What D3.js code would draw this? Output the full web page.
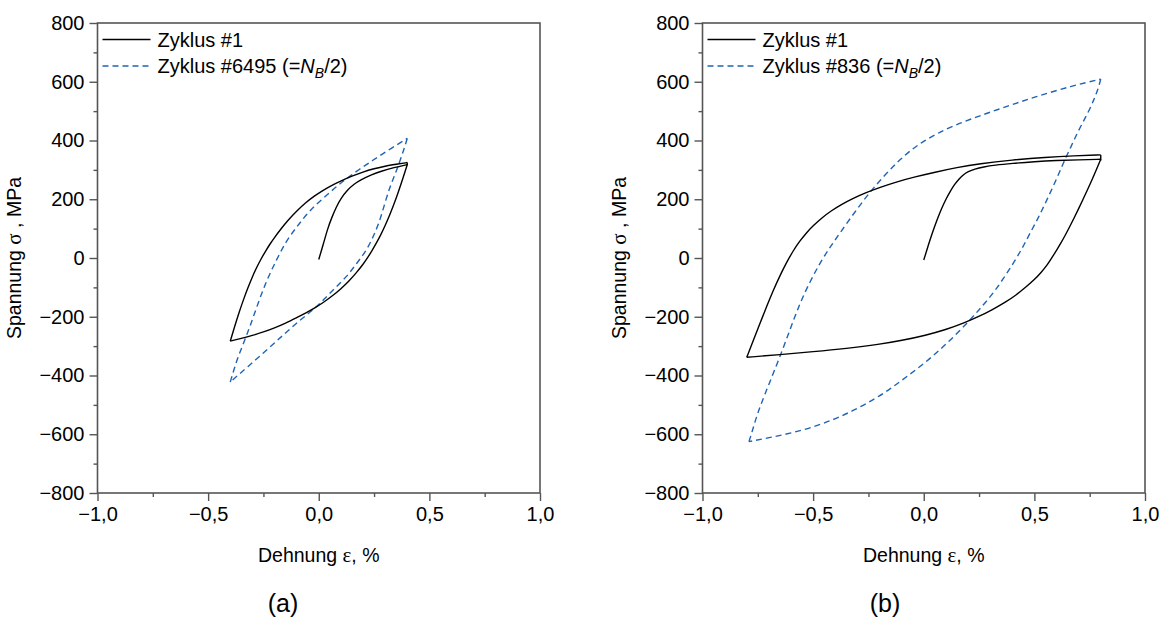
<!DOCTYPE html>
<html>
<head>
<meta charset="utf-8">
<script src="https://cdn.jsdelivr.net/npm/d3@7"></script>
<style>
  body { margin: 0; background: #fff; }
  svg { display: block; }
  text { font-family: "Liberation Sans", Arial, sans-serif; fill: #000; }
</style>
</head>
<body>
<div id="chart"></div>
<script>
// tick values
const xMajor = [-1, -0.5, 0, 0.5, 1];
const xMinor = [-0.75, -0.25, 0.25, 0.75];
const yMajor = [-800, -600, -400, -200, 0, 200, 400, 600, 800];
const yMinor = [-700, -500, -300, -100, 100, 300, 500, 700];

// panel (a): cycle 1, [strain %, stress MPa]
const a1Load = [[0,-5],[0.02,45],[0.04,100],[0.06,140],[0.08,175],[0.10,203],[0.13,232],[0.16,252],[0.19,266],[0.24,284],[0.28,295],[0.34,308],[0.40,318]];
const a1Unload = [[0.40,318],[0.38,270],[0.36,225],[0.34,183],[0.32,145],[0.30,110],[0.28,78],[0.26,50],[0.24,24],[0.22,0],[0.20,-22],[0.17,-50],[0.14,-76],[0.10,-105],[0.06,-130],[0.02,-152],[-0.02,-171],[-0.06,-188],[-0.10,-203],[-0.15,-222],[-0.20,-238],[-0.25,-252],[-0.30,-264],[-0.35,-274],[-0.40,-283]];
const a1Reload = [[-0.40,-283],[-0.38,-233],[-0.36,-185],[-0.34,-141],[-0.32,-101],[-0.30,-64],[-0.28,-31],[-0.26,-2],[-0.24,24],[-0.22,48],[-0.20,70],[-0.17,100],[-0.14,128],[-0.10,160],[-0.06,188],[-0.02,211],[0.02,231],[0.06,248],[0.10,262],[0.15,279],[0.20,293],[0.25,304],[0.30,313],[0.35,319],[0.40,325]];
const a1Close = [[0.40,325],[0.40,316]];
// panel (a): cycle 6495
const aNUnload = [[0.40,407],[0.385,370],[0.367,330],[0.345,285],[0.322,243],[0.30,190],[0.277,129],[0.25,78],[0.217,27],[0.17,-20],[0.126,-64],[0.07,-105],[0.021,-143],[-0.03,-180],[-0.085,-211],[-0.16,-262],[-0.235,-313],[-0.32,-370],[-0.40,-422]];
const aNReload = [[-0.40,-422],[-0.385,-385],[-0.37,-347],[-0.34,-290],[-0.311,-234],[-0.275,-155],[-0.235,-75],[-0.19,-5],[-0.145,61],[-0.09,115],[-0.04,163],[0.03,210],[0.096,254],[0.17,295],[0.247,334],[0.32,370],[0.40,407]];

// panel (b): cycle 1
const b1Load = [[0,-7],[0.02,42],[0.04,88],[0.06,130],[0.08,168],[0.10,200],[0.12,228],[0.14,251],[0.16,270],[0.18,284],[0.20,294],[0.23,303],[0.27,310],[0.32,316],[0.40,322],[0.50,328],[0.60,332],[0.70,334],[0.80,336]];
const b1Unload = [[0.80,336],[0.78,300],[0.76,265],[0.74,232],[0.72,200],[0.70,168],[0.68,137],[0.66,107],[0.64,78],[0.62,51],[0.60,26],[0.58,2],[0.56,-22],[0.53,-50],[0.50,-74],[0.46,-100],[0.42,-125],[0.37,-150],[0.31,-176],[0.25,-199],[0.18,-222],[0.10,-244],[0.01,-263],[-0.10,-281],[-0.20,-294],[-0.35,-308],[-0.50,-319],[-0.65,-329],[-0.80,-338]];
const b1Reload = [[-0.80,-338],[-0.77,-280],[-0.74,-222],[-0.71,-165],[-0.68,-110],[-0.65,-60],[-0.62,-15],[-0.59,25],[-0.56,58],[-0.53,86],[-0.50,110],[-0.46,137],[-0.42,160],[-0.37,183],[-0.32,203],[-0.26,223],[-0.20,240],[-0.12,260],[-0.04,276],[0.05,292],[0.15,308],[0.25,321],[0.40,334],[0.55,343],[0.68,348],[0.80,351]];
const b1Close = [[0.80,351],[0.80,332]];
// panel (b): cycle 836
const bNUnload = [[0.80,609],[0.79,580],[0.77,540],[0.74,490],[0.70,436],[0.665,378],[0.63,322],[0.595,260],[0.556,197],[0.52,140],[0.48,84],[0.445,33],[0.405,-18],[0.36,-70],[0.314,-120],[0.26,-168],[0.209,-211],[0.14,-265],[0.073,-313],[0.0,-360],[-0.077,-404],[-0.15,-445],[-0.228,-483],[-0.32,-520],[-0.409,-551],[-0.51,-578],[-0.605,-597],[-0.70,-612],[-0.79,-625]];
const bNReload = [[-0.79,-625],[-0.775,-590],[-0.76,-550],[-0.74,-506],[-0.70,-430],[-0.65,-336],[-0.605,-245],[-0.56,-154],[-0.515,-82],[-0.47,-18],[-0.425,35],[-0.38,84],[-0.31,158],[-0.24,228],[-0.175,283],[-0.11,334],[-0.05,372],[0.0,398],[0.07,428],[0.17,462],[0.34,507],[0.5,548],[0.67,586],[0.8,609]];

const panels = [
    {left: 97.5, right: 540, caption: "(a)", capX: 283, nb: "6495",
     first: [a1Load, a1Unload, a1Reload, a1Close], half: [aNUnload, aNReload]},
    {left: 702.5, right: 1145, caption: "(b)", capX: 885, nb: "836",
     first: [b1Load, b1Unload, b1Reload, b1Close], half: [bNUnload, bNReload]}
];

const W = 1166, H = 619, plotTop = 23, plotBottom = 493;
const axisCol = "#555", blue = "#1f64b4";
const fmt = d => d3.format(".1f")(d).replace(".", ",");

const svg = d3.select("#chart").append("svg")
    .attr("width", W).attr("height", H);

panels.forEach(p => {
    const x = d3.scaleLinear().domain([-1, 1]).range([p.left, p.right]);
    const y = d3.scaleLinear().domain([-800, 800]).range([plotBottom, plotTop]);
    const g = svg.append("g");

    // frame
    g.append("rect")
        .attr("x", p.left).attr("y", plotTop)
        .attr("width", p.right - p.left).attr("height", plotBottom - plotTop)
        .attr("fill", "none").attr("stroke", axisCol).attr("stroke-width", 1.6);

    // axes
    const styleAxis = sel => {
        sel.select(".domain").remove();
        sel.selectAll(".tick line").attr("stroke", axisCol).attr("stroke-width", 1.4);
        sel.selectAll(".tick text").attr("font-size", 20).attr("fill", "#000")
            .attr("font-family", "Liberation Sans, Arial, sans-serif");
    };
    g.append("g").attr("transform", `translate(0,${plotBottom})`)
        .call(d3.axisBottom(x).tickValues(xMajor).tickSize(8).tickPadding(6).tickFormat(fmt))
        .call(styleAxis);
    g.append("g").attr("transform", `translate(0,${plotBottom})`)
        .call(d3.axisBottom(x).tickValues(xMinor).tickSize(4).tickFormat(""))
        .call(styleAxis);
    g.append("g").attr("transform", `translate(${p.left},0)`)
        .call(d3.axisLeft(y).tickValues(yMajor).tickSize(8).tickPadding(5))
        .call(styleAxis);
    g.append("g").attr("transform", `translate(${p.left},0)`)
        .call(d3.axisLeft(y).tickValues(yMinor).tickSize(4).tickFormat(""))
        .call(styleAxis);

    // axis titles
    const xt = g.append("text")
        .attr("x", (p.left + p.right) / 2).attr("y", 562)
        .attr("text-anchor", "middle").attr("font-size", 19.5);
    xt.append("tspan").text("Dehnung ");
    xt.append("tspan").attr("font-family", "Liberation Serif, serif").attr("font-size", 21).text("ε");
    xt.append("tspan").text(", %");

    const yt = g.append("text")
        .attr("transform", `translate(${p.left - 77},${(plotTop + plotBottom) / 2}) rotate(-90)`)
        .attr("text-anchor", "middle").attr("font-size", 19.5);
    yt.append("tspan").text("Spannung ");
    yt.append("tspan").attr("font-family", "Liberation Serif, serif").attr("font-size", 21).text("σ");
    yt.append("tspan").text(" , MPa");

    g.append("text")
        .attr("x", p.capX).attr("y", 612)
        .attr("text-anchor", "middle")
        .attr("font-family", "Noto Sans, sans-serif")
        .attr("font-size", 25).text(p.caption);

    // curves
    const line = d3.line()
        .x(d => x(d[0])).y(d => y(d[1]))
        .curve(d3.curveBasis);

    g.selectAll(".half")
        .data(p.half)
        .join("path")
        .attr("class", "half")
        .attr("fill", "none")
        .attr("stroke", blue)
        .attr("stroke-width", 1.4)
        .attr("stroke-dasharray", "6,4")
        .attr("d", line);

    g.selectAll(".first")
        .data(p.first)
        .join("path")
        .attr("class", "first")
        .attr("fill", "none")
        .attr("stroke", "#000")
        .attr("stroke-width", 1.4)
        .attr("d", line);

    // legend
    const lx = p.left + 5;
    g.append("line").attr("x1", lx).attr("x2", lx + 48)
        .attr("y1", 39.5).attr("y2", 39.5)
        .attr("stroke", "#000").attr("stroke-width", 1.4);
    g.append("text").attr("x", lx + 55).attr("y", 46.5)
        .attr("font-size", 20).text("Zyklus #1");
    g.append("line").attr("x1", lx).attr("x2", lx + 48)
        .attr("y1", 66).attr("y2", 66)
        .attr("stroke", blue).attr("stroke-width", 1.4)
        .attr("stroke-dasharray", "6,4");
    const lt = g.append("text").attr("x", lx + 55).attr("y", 73)
        .attr("font-size", 20);
    lt.append("tspan").text(`Zyklus #${p.nb} (=`);
    lt.append("tspan").attr("font-style", "italic").text("N");
    lt.append("tspan").attr("font-style", "italic").attr("font-size", 14)
        .attr("dy", 5).text("B");
    lt.append("tspan").attr("dy", -5).text("/2)");
});
</script>
</body>
</html>
